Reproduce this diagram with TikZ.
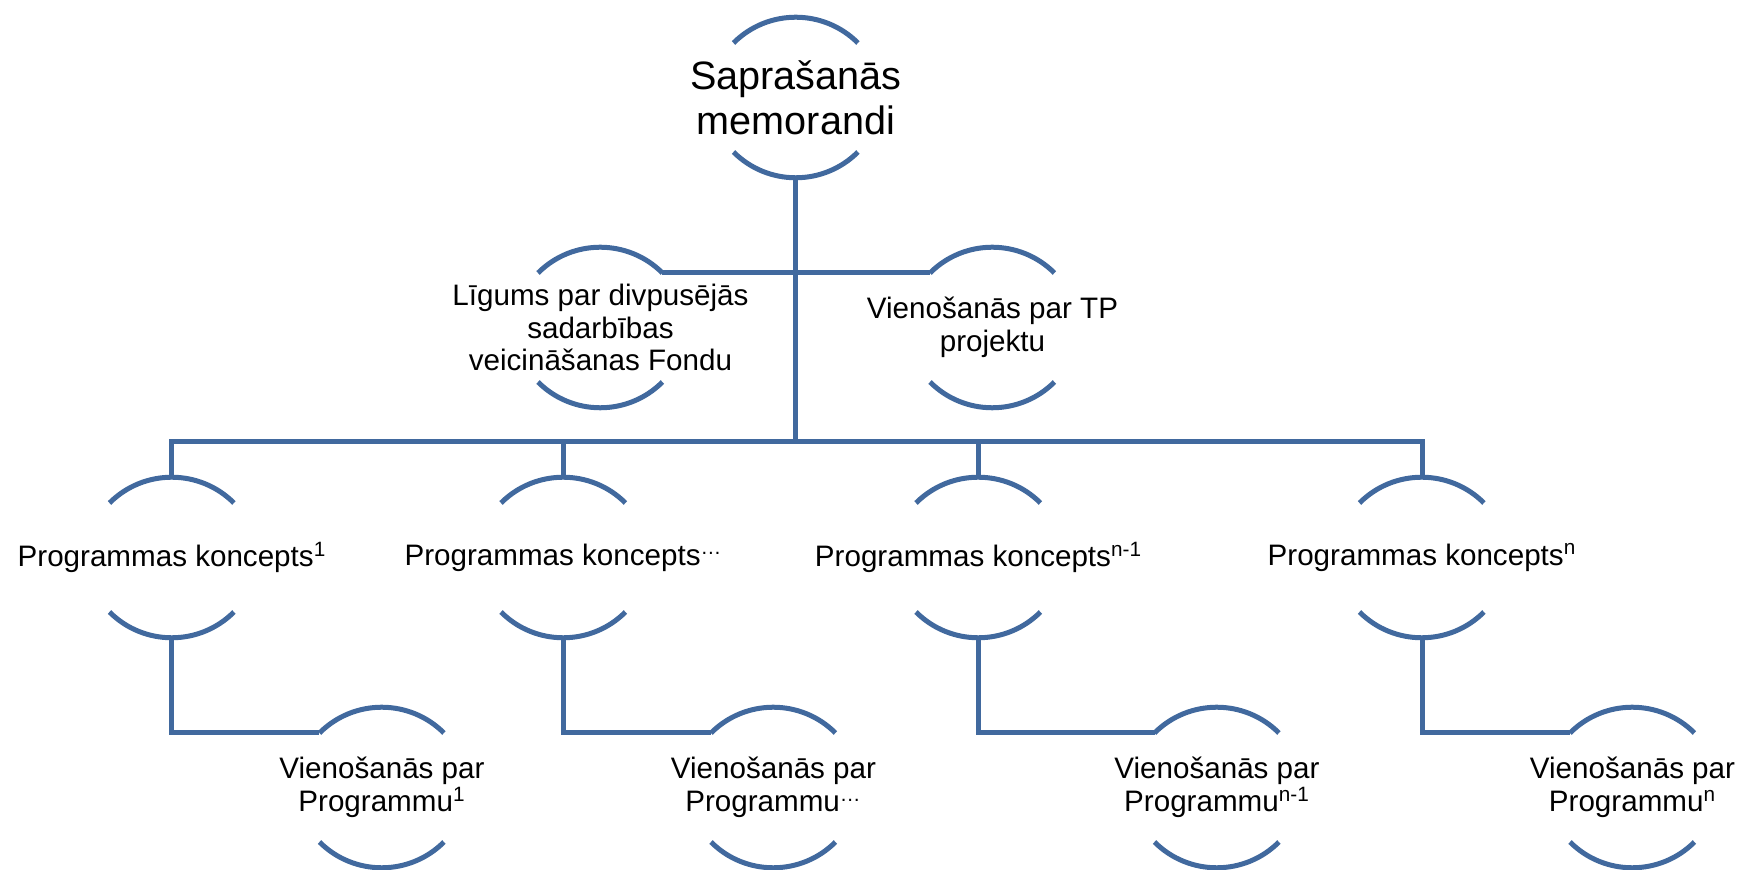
\documentclass[tikz,border=0pt]{standalone}
\usepackage{fontspec}
\setmainfont{Liberation Sans}
\usepackage{xcolor}
\usepackage{tikz}
\usetikzlibrary{positioning}

\definecolor{rimblue}{RGB}{65,105,158}

% two arcs round a node, with the ends of the upper arc named
\newcommand{\rims}[1]{%
\draw[rim] ([shift={(-31.25pt,27.25pt)}]#1.center) coordinate (#1-tl)
  arc[start angle=135,end angle=45,radius=44pt] coordinate (#1-tr);
\draw[rim] ([shift={(-31.25pt,-27.25pt)}]#1.center)
  arc[start angle=225,end angle=315,radius=44pt];
}

\begin{document}
\begin{tikzpicture}[on grid,
box/.style={inner sep=0pt,minimum width=62.5pt,minimum height=80.5pt,align=center,font=\fontsize{14.8pt}{16.25pt}\selectfont},
rim/.style={draw=rimblue,line width=2.5pt},
link/.style={draw=rimblue,line width=2.5pt}]
\useasboundingbox (-398pt,-386.25pt) rectangle (472.5pt,48.75pt);

\node[box,font=\fontsize{19.8pt}{22.5pt}\selectfont] (memo) at (0,0) {Saprašanās\\memorandi};
\node[box,below left=115pt and 97.75pt of memo] (ligums) {Līgums par divpusējās\\sadarbības\\veicināšanas Fondu};
\node[box,below right=115pt and 98.25pt of memo] (tp) {Vienošanās par TP\\projektu};

\node[box,below left=230pt and 312pt of memo] (k1) {Programmas koncepts\textsuperscript{1}};
\node[box,right=195.75pt of k1] (k2) {Programmas koncepts\textsuperscript{…}};
\node[box,right=207.5pt of k2] (k3) {Programmas koncepts\textsuperscript{n-1}};
\node[box,right=221.75pt of k3] (k4) {Programmas koncepts\textsuperscript{n}};

\node[box,below right=115pt and 105pt of k1] (v1) {Vienošanās par\\Programmu\textsuperscript{1}};
\node[box,below right=115pt and 105pt of k2] (v2) {Vienošanās par\\Programmu\textsuperscript{…}};
\node[box,below right=115pt and 119.25pt of k3] (v3) {Vienošanās par\\Programmu\textsuperscript{n-1}};
\node[box,below right=115pt and 105.25pt of k4] (v4) {Vienošanās par\\Programmu\textsuperscript{n}};

\foreach \n in {memo,ligums,tp,k1,k2,k3,k4,v1,v2,v3,v4} {\rims{\n}}

% bus over the concepts
\coordinate[above=17.5pt of k1.north] (busL);
\coordinate[above=17.5pt of k4.north] (busR);

\draw[link] (memo.south) -- (memo.south |- busL);
\draw[link] (ligums-tr) -- (tp-tl);
\draw[link] (k1.north) -- (busL) -- (busR) -- (k4.north);
\draw[link] (k2.north) -- (k2.north |- busL);
\draw[link] (k3.north) -- (k3.north |- busL);
\foreach \i in {1,...,4} \draw[link] (k\i.south) |- (v\i-tl);
\end{tikzpicture}
\end{document}
